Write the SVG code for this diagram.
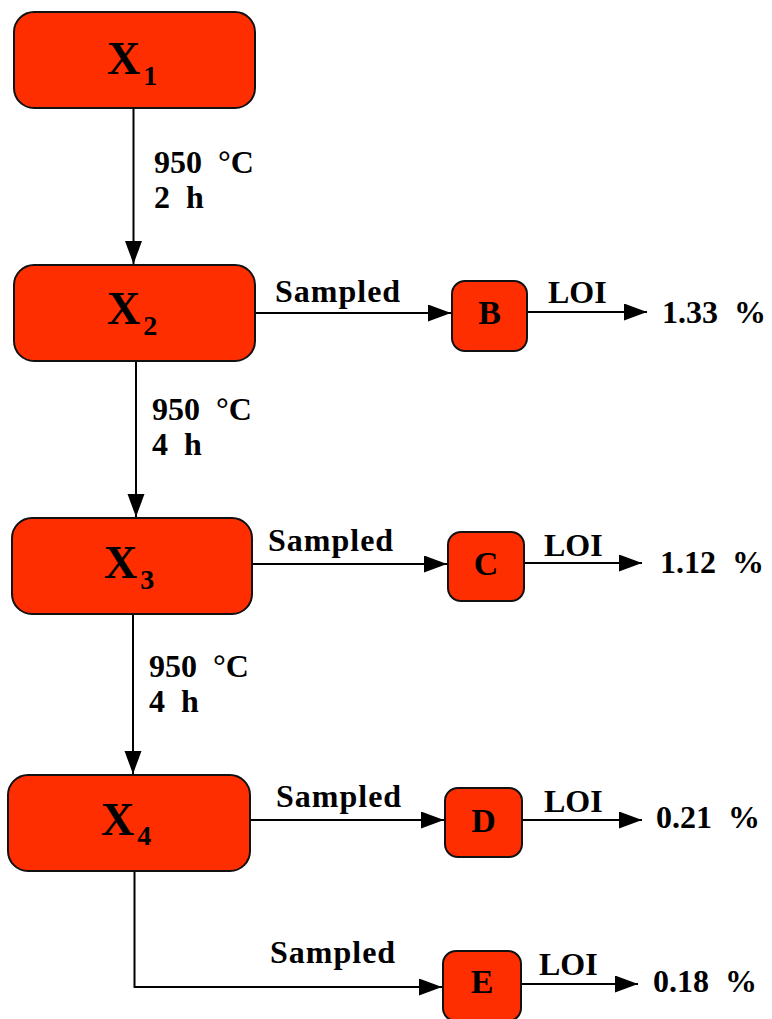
<svg xmlns="http://www.w3.org/2000/svg" width="772" height="1019" viewBox="0 0 772 1019">
  <style>
    .box { fill: #ff2e00; stroke: #111; stroke-width: 2; }
    .lbl { font-family: 'Liberation Serif', Tinos, 'Times New Roman', Times, serif; font-weight: bold; font-size: 32px; fill: #000; white-space: pre; }
    .wide { letter-spacing: 1px; }
    .big { font-family: 'Liberation Serif', Tinos, 'Times New Roman', Times, serif; font-weight: bold; font-size: 46px; fill: #000; }
    .sub { font-size: 28px; }
    .small { font-family: 'Liberation Serif', Tinos, 'Times New Roman', Times, serif; font-weight: bold; font-size: 34px; fill: #000; text-anchor: middle; }
    .edge { fill: none; stroke: #000; stroke-width: 2; marker-end: url(#arrow); }
  </style>
  <defs>
    <marker id="arrow" markerUnits="userSpaceOnUse" markerWidth="24" markerHeight="18" refX="23" refY="8.5" orient="auto">
      <path d="M0,0 L23,8.5 L0,17 Z" fill="#000"/>
    </marker>
  </defs>

  <rect width="772" height="1019" fill="#fff"/>

  <!-- connectors -->
  <g id="connectors">
    <path class="edge" d="M133.5,108 V264"/>
    <path class="edge" d="M136,361 V517"/>
    <path class="edge" d="M133,614 V774"/>
    <path class="edge" d="M255,313 H451"/>
    <path class="edge" d="M252,564 H447"/>
    <path class="edge" d="M250,820 H444"/>
    <path class="edge" d="M134.5,871 V987 H442"/>
    <path class="edge" d="M527,312 H647"/>
    <path class="edge" d="M524,563 H642"/>
    <path class="edge" d="M522,820 H642"/>
    <path class="edge" d="M521,984 H638"/>
  </g>

  <!-- edge labels -->
  <g id="edge-labels">
    <text class="lbl" x="154" y="173">950  °C</text>
    <text class="lbl" x="154" y="208">2  h</text>
    <text class="lbl" x="152" y="420">950  °C</text>
    <text class="lbl" x="152" y="455">4  h</text>
    <text class="lbl" x="149" y="677">950  °C</text>
    <text class="lbl" x="149" y="712">4  h</text>
    <text class="lbl wide" x="275" y="302">Sampled</text>
    <text class="lbl wide" x="268" y="551">Sampled</text>
    <text class="lbl wide" x="276" y="807">Sampled</text>
    <text class="lbl wide" x="270" y="963">Sampled</text>
    <text class="lbl" x="548" y="303">LOI</text>
    <text class="lbl" x="544" y="556">LOI</text>
    <text class="lbl" x="544" y="812">LOI</text>
    <text class="lbl" x="539" y="975">LOI</text>
  </g>

  <!-- results -->
  <g id="results">
    <text class="lbl" x="662" y="323">1.33  %</text>
    <text class="lbl" x="660" y="573">1.12  %</text>
    <text class="lbl" x="656" y="828">0.21  %</text>
    <text class="lbl" x="653" y="992">0.18  %</text>
  </g>

  <!-- main stages -->
  <g id="X1">
    <rect class="box" x="14" y="12" width="241" height="96" rx="20"/>
    <text class="big" x="107" y="74">X<tspan class="sub" dx="3" dy="11">1</tspan></text>
  </g>
  <g id="X2">
    <rect class="box" x="14" y="265" width="241" height="96" rx="20"/>
    <text class="big" x="107" y="324">X<tspan class="sub" dx="3" dy="11">2</tspan></text>
  </g>
  <g id="X3">
    <rect class="box" x="12" y="518" width="240" height="96" rx="20"/>
    <text class="big" x="104" y="578">X<tspan class="sub" dx="3" dy="11">3</tspan></text>
  </g>
  <g id="X4">
    <rect class="box" x="8" y="775" width="242" height="96" rx="20"/>
    <text class="big" x="101" y="835">X<tspan class="sub" dx="3" dy="10">4</tspan></text>
  </g>

  <!-- samples -->
  <g id="B">
    <rect class="box" x="452" y="281" width="75" height="70" rx="13"/>
    <text class="small" x="489.5" y="324">B</text>
  </g>
  <g id="C">
    <rect class="box" x="448" y="532" width="76" height="69" rx="13"/>
    <text class="small" x="486" y="575">C</text>
  </g>
  <g id="D">
    <rect class="box" x="445" y="788" width="77" height="69" rx="13"/>
    <text class="small" x="483.5" y="832">D</text>
  </g>
  <g id="E">
    <rect class="box" x="443" y="951" width="78" height="70" rx="13"/>
    <text class="small" x="482" y="993">E</text>
  </g>
</svg>
